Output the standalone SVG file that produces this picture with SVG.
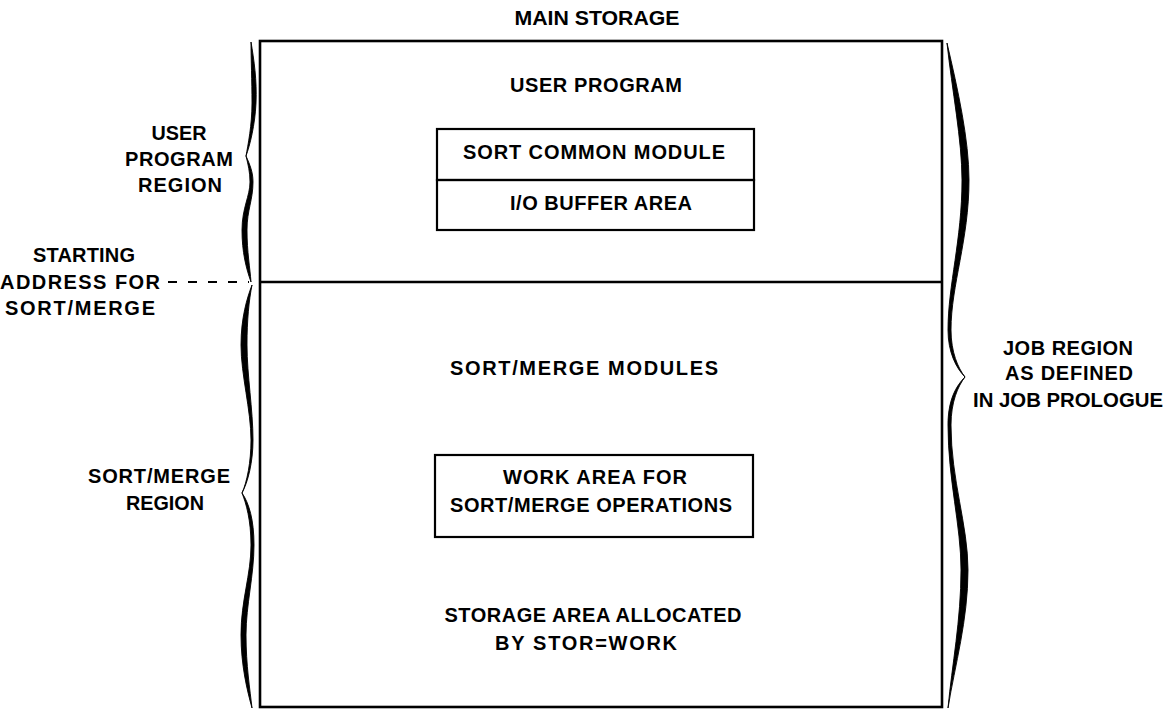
<svg xmlns="http://www.w3.org/2000/svg" width="1168" height="713" viewBox="0 0 1168 713">
<style>
text{font-family:"Liberation Sans",Arial,sans-serif;font-weight:bold;font-size:20px;fill:#000;text-anchor:middle}
.box{fill:none;stroke:#000;stroke-width:2.2}
.main{fill:none;stroke:#000;stroke-width:2.6}
.brace{fill:#000;stroke:#000;stroke-width:0.9;stroke-linejoin:round}
.dash{stroke:#000;stroke-width:2.2;stroke-dasharray:9 11;fill:none}
</style>
<rect width="1168" height="713" fill="#fff"/>
<g id="main-storage">
<text x="597" y="25" textLength="165" lengthAdjust="spacingAndGlyphs">MAIN STORAGE</text>
<rect class="main" x="260" y="41" width="682" height="666"/>
<line class="main" x1="260" y1="282" x2="942" y2="282"/>
</g>
<g id="user-program">
<text x="596" y="92" textLength="172" lengthAdjust="spacing">USER PROGRAM</text>
</g>
<g id="sort-common-module">
<rect class="box" x="437" y="129" width="317" height="51"/>
<text x="594" y="159" textLength="262" lengthAdjust="spacing">SORT COMMON MODULE</text>
</g>
<g id="io-buffer-area">
<rect class="box" x="437" y="180" width="317" height="50"/>
<text x="601" y="210" textLength="182" lengthAdjust="spacing">I/O BUFFER AREA</text>
</g>
<g id="sort-merge-modules">
<text x="584" y="375" textLength="268" lengthAdjust="spacing">SORT/MERGE MODULES</text>
</g>
<g id="work-area">
<rect class="box" x="435" y="455" width="318" height="82"/>
<text x="595" y="484" textLength="184" lengthAdjust="spacing">WORK AREA FOR</text>
<text x="591" y="512" textLength="282" lengthAdjust="spacing">SORT/MERGE OPERATIONS</text>
</g>
<g id="storage-area">
<text x="593" y="622" textLength="297" lengthAdjust="spacing">STORAGE AREA ALLOCATED</text>
<text x="586" y="650" textLength="182" lengthAdjust="spacing">BY STOR=WORK</text>
</g>
<g id="user-program-region">
<path class="brace" d="M251,42 C254,60 257,80 256,103 C255,125 250,145 246,156 C250,165 253,172 253,182 C253,200 247,210 247,230 C247,252 250,268 251,282 C246,268 242,252 242,230 C242,208 250,196 250,182 C250,172 248,164 246,156 C248,145 252,125 252,103 C252,80 251,60 251,42 Z"/>
<text x="179" y="140" textLength="55" lengthAdjust="spacingAndGlyphs">USER</text>
<text x="179" y="166" textLength="108" lengthAdjust="spacing">PROGRAM</text>
<text x="180" y="192" textLength="84" lengthAdjust="spacing">REGION</text>
</g>
<g id="starting-address">
<text x="84" y="262" textLength="102" lengthAdjust="spacing">STARTING</text>
<text x="80" y="289" textLength="160" lengthAdjust="spacing">ADDRESS FOR</text>
<text x="80" y="315" textLength="150" lengthAdjust="spacing">SORT/MERGE</text>
</g>
<g id="sort-merge-region">
<path class="brace" d="M252,285 C249,300 247,320 247,345 C247,375 253,410 253,440 C253,462 248,482 242,493 C249,503 254,520 254,545 C254,575 246,605 246,635 C246,665 250,690 252,708 C247,690 241,665 241,635 C241,600 251,575 251,545 C251,520 246,503 242,493 C247,482 251,462 251,440 C251,410 241,375 241,345 C241,318 247,298 252,285 Z"/>
<text x="159" y="483" textLength="142" lengthAdjust="spacing">SORT/MERGE</text>
<text x="165" y="510" textLength="78" lengthAdjust="spacingAndGlyphs">REGION</text>
</g>
<g id="job-region">
<path class="brace" d="M947,43 C958,90 969,140 969,180 C969,240 951,285 951,330 C951,352 958,368 965,377 C958,386 951,402 951,425 C951,480 968,525 968,570 C968,620 955,665 948,708 C952,665 961,620 961,570 C961,525 948,480 948,425 C948,400 956,386 965,377 C956,368 948,352 948,330 C948,285 962,240 962,180 C962,140 952,90 947,43 Z"/>
<text x="1068" y="355" textLength="130" lengthAdjust="spacing">JOB REGION</text>
<text x="1069" y="380" textLength="128" lengthAdjust="spacing">AS DEFINED</text>
<text x="1068" y="407" textLength="190" lengthAdjust="spacingAndGlyphs">IN JOB PROLOGUE</text>
</g>
<g id="connectors">
<line class="dash" x1="168" y1="282" x2="249" y2="282"/>
</g>
</svg>
